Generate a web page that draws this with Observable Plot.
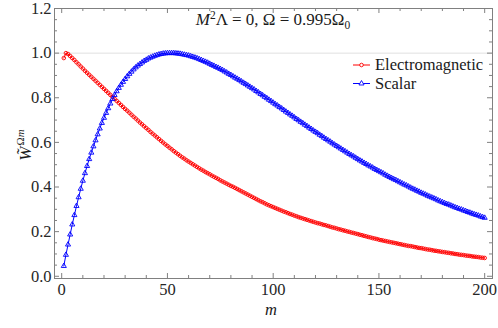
<!DOCTYPE html>
<html><head><meta charset="utf-8">
<script src="https://cdn.jsdelivr.net/npm/d3@7"></script>
<script src="https://cdn.jsdelivr.net/npm/@observablehq/plot@0.6"></script>
<style>
body{margin:0;background:#fff}
#chart svg{display:block}
#chart svg, #chart svg text, #chart svg tspan { font-family: "Liberation Serif", "Times New Roman", Times, serif !important; }
</style>
</head><body><div id="chart"></div>
<script>
// m = 1 .. 200
const mValues = d3.range(1, 201);

const electromagnetic = [
0.978,1.000,0.996,0.987,0.978,0.969,0.959,0.950,0.940,0.931,
0.921,0.912,0.903,0.894,0.885,0.876,0.867,0.858,0.849,0.840,
0.831,0.822,0.813,0.804,0.795,0.786,0.777,0.768,0.759,0.750,
0.742,0.733,0.724,0.715,0.707,0.698,0.689,0.681,0.672,0.664,
0.656,0.647,0.639,0.631,0.623,0.615,0.607,0.599,0.591,0.584,
0.576,0.569,0.561,0.554,0.547,0.540,0.533,0.527,0.520,0.514,
0.508,0.502,0.496,0.490,0.484,0.478,0.473,0.467,0.462,0.457,
0.451,0.446,0.441,0.436,0.430,0.425,0.420,0.415,0.410,0.405,
0.401,0.396,0.391,0.386,0.381,0.376,0.371,0.366,0.361,0.356,
0.351,0.346,0.341,0.336,0.332,0.327,0.322,0.318,0.314,0.310,
0.306,0.302,0.298,0.294,0.290,0.287,0.283,0.279,0.276,0.272,
0.269,0.265,0.262,0.259,0.256,0.253,0.250,0.247,0.244,0.241,
0.238,0.236,0.233,0.230,0.228,0.225,0.222,0.219,0.217,0.214,
0.211,0.209,0.206,0.204,0.201,0.199,0.196,0.194,0.191,0.189,
0.186,0.184,0.181,0.179,0.176,0.174,0.171,0.169,0.167,0.164,
0.162,0.160,0.158,0.156,0.154,0.152,0.150,0.148,0.146,0.144,
0.142,0.140,0.138,0.136,0.135,0.133,0.131,0.129,0.127,0.126,
0.124,0.122,0.120,0.119,0.117,0.115,0.114,0.112,0.111,0.109,
0.108,0.106,0.105,0.103,0.102,0.100,0.099,0.097,0.096,0.095,
0.093,0.092,0.091,0.089,0.088,0.087,0.086,0.084,0.083,0.082
];

const scalar = [
0.046,0.096,0.142,0.187,0.232,0.274,0.315,0.354,0.392,0.428,
0.462,0.494,0.525,0.554,0.582,0.609,0.636,0.662,0.687,0.710,
0.732,0.753,0.774,0.794,0.812,0.829,0.844,0.858,0.871,0.884,
0.896,0.907,0.917,0.927,0.936,0.944,0.951,0.958,0.965,0.970,
0.976,0.980,0.984,0.988,0.991,0.994,0.996,0.998,0.999,1.000,
1.000,1.000,1.000,0.999,0.998,0.997,0.995,0.993,0.991,0.989,
0.986,0.983,0.980,0.977,0.973,0.969,0.965,0.961,0.957,0.952,
0.947,0.943,0.938,0.934,0.929,0.924,0.918,0.913,0.907,0.902,
0.896,0.890,0.885,0.879,0.873,0.867,0.861,0.855,0.849,0.843,
0.837,0.830,0.824,0.817,0.811,0.804,0.798,0.791,0.785,0.778,
0.771,0.765,0.758,0.752,0.745,0.738,0.732,0.725,0.719,0.712,
0.705,0.699,0.692,0.686,0.679,0.673,0.666,0.660,0.653,0.647,
0.641,0.634,0.628,0.621,0.615,0.609,0.603,0.596,0.590,0.584,
0.578,0.572,0.566,0.560,0.554,0.548,0.542,0.537,0.531,0.525,
0.519,0.514,0.508,0.503,0.497,0.492,0.487,0.481,0.476,0.471,
0.466,0.461,0.455,0.450,0.445,0.440,0.435,0.431,0.426,0.421,
0.416,0.411,0.407,0.402,0.397,0.392,0.388,0.383,0.379,0.374,
0.370,0.366,0.361,0.357,0.353,0.349,0.345,0.340,0.336,0.332,
0.328,0.324,0.321,0.317,0.313,0.309,0.306,0.302,0.299,0.295,
0.292,0.288,0.285,0.281,0.278,0.275,0.272,0.268,0.265,0.262
];

const seriesNames = ["Electromagnetic", "Scalar"];
const seriesColors = ["#ff0000", "#0000ff"];
const xMajorTicks = [0, 50, 100, 150, 200];
const xMinorTicks = d3.range(0, 201, 10).filter(d => d % 50 !== 0);
const yMajorTicks = [0, 0.2, 0.4, 0.6, 0.8, 1.0, 1.2];
const yMinorTicks = d3.range(0, 25).map(i => i * 0.05).filter((d, i) => i % 4 !== 0);

const W = 498, H = 328, mL = 54, mR = 6, mT = 8, mB = 50;
const xDomain = [-3.4, 203.7];
const yDomain = [-0.01, 1.2];
const kx = (xDomain[1] - xDomain[0]) / (W - mL - mR);
const ky = (yDomain[1] - yDomain[0]) / (H - mT - mB);
const majX = 5 * kx, minX = 3 * kx, majY = 5 * ky, minY = 3 * ky;

const emData = mValues.map((m, i) => ({m, v: electromagnetic[i]}));
const scData = mValues.map((m, i) => ({m, v: scalar[i]}));
const frameColor = "#808080";
const ff = '"Liberation Serif", "Times New Roman", serif';

const svg = Plot.plot({
  width: W, height: H,
  marginLeft: mL, marginRight: mR, marginTop: mT, marginBottom: mB,
  style: {fontFamily: ff, fontSize: "16px", color: "#262626", background: "#fff"},
  x: {domain: xDomain, axis: null},
  y: {domain: yDomain, axis: null},
  marks: [
    Plot.ruleY([1.0], {stroke: "#e0e0e0", strokeWidth: 1}),
    Plot.line(emData, {x: "m", y: "v", stroke: seriesColors[0], strokeWidth: 1}),
    Plot.dot(emData, {x: "m", y: "v", r: 1.8, stroke: seriesColors[0], fill: "none", strokeWidth: 0.9}),
    Plot.line(scData, {x: "m", y: "v", stroke: seriesColors[1], strokeWidth: 1}),
    Plot.dot(scData, {x: "m", y: "v", symbol: "triangle", r: 1.9, stroke: seriesColors[1], fill: "none", strokeWidth: 0.9}),
    Plot.frame({stroke: frameColor}),
    // inward frame ticks
    Plot.ruleX(xMajorTicks, {y1: yDomain[0], y2: yDomain[0] + majY, stroke: frameColor}),
    Plot.ruleX(xMinorTicks, {y1: yDomain[0], y2: yDomain[0] + minY, stroke: frameColor}),
    Plot.ruleX(xMajorTicks, {y1: yDomain[1] - majY, y2: yDomain[1], stroke: frameColor}),
    Plot.ruleX(xMinorTicks, {y1: yDomain[1] - minY, y2: yDomain[1], stroke: frameColor}),
    Plot.ruleY(yMajorTicks, {x1: xDomain[0], x2: xDomain[0] + majX, stroke: frameColor}),
    Plot.ruleY(yMinorTicks, {x1: xDomain[0], x2: xDomain[0] + minX, stroke: frameColor}),
    Plot.ruleY(yMajorTicks, {x1: xDomain[1] - majX, x2: xDomain[1], stroke: frameColor}),
    Plot.ruleY(yMinorTicks, {x1: xDomain[1] - minX, x2: xDomain[1], stroke: frameColor}),
    Plot.axisX({ticks: xMajorTicks, tickSize: 0, tickPadding: 5, label: null, anchor: "bottom", fontSize: 16.5}),
    Plot.axisY({ticks: yMajorTicks, tickSize: 0, tickPadding: 3, label: null, anchor: "left", fontSize: 16.5, tickFormat: d => d.toFixed(1)})
  ]
});

const s = d3.select(svg);

// Title
const t = s.append("text").attr("x", 273).attr("y", 25).attr("text-anchor", "middle")
  .attr("font-size", 17).attr("fill", "#1a1a1a");
t.append("tspan").attr("font-style", "italic").text("M");
t.append("tspan").attr("font-size", 11.5).attr("dy", -6).text("2");
t.append("tspan").attr("dy", 6).text("Λ = 0, Ω = 0.995Ω");
t.append("tspan").attr("font-size", 11.5).attr("dy", 4).text("0");

// x label
s.append("text").attr("x", 271).attr("y", 315).attr("text-anchor", "middle")
  .attr("font-size", 16.5).attr("font-style", "italic").attr("fill", "#1a1a1a").text("m");

// y label
const yl = s.append("text").attr("transform", "translate(31,145) rotate(-90)").attr("text-anchor", "middle")
  .attr("font-size", 17).attr("fill", "#1a1a1a");
yl.append("tspan").attr("font-style", "italic").text("W\u0303");
yl.append("tspan").attr("font-size", 11).attr("dy", -7).attr("dx", 1).text("Ω");
yl.append("tspan").attr("font-size", 11).attr("font-style", "italic").text("m");

// Legend
const legY = [65, 83.5];
seriesNames.forEach((name, i) => {
  const g = s.append("g");
  g.append("line").attr("x1", 353).attr("x2", 370).attr("y1", legY[i]).attr("y2", legY[i])
    .attr("stroke", seriesColors[i]).attr("stroke-width", 1);
  if (i === 0) {
    g.append("circle").attr("cx", 361.5).attr("cy", legY[i]).attr("r", 1.8)
      .attr("fill", "white").attr("stroke", seriesColors[i]).attr("stroke-width", 0.9);
  } else {
    g.append("path").attr("transform", `translate(361.5,${legY[i]})`)
      .attr("d", d3.symbol(d3.symbolTriangle, 1.9 * 1.9 * Math.PI)())
      .attr("fill", "white").attr("stroke", seriesColors[i]).attr("stroke-width", 0.9);
  }
  g.append("text").attr("x", 375).attr("y", legY[i]).attr("dy", "0.33em").attr("text-anchor", "start")
    .attr("font-size", 16.5).attr("fill", "#1a1a1a").text(name);
});

document.getElementById("chart").appendChild(svg);
</script>
</body></html>
